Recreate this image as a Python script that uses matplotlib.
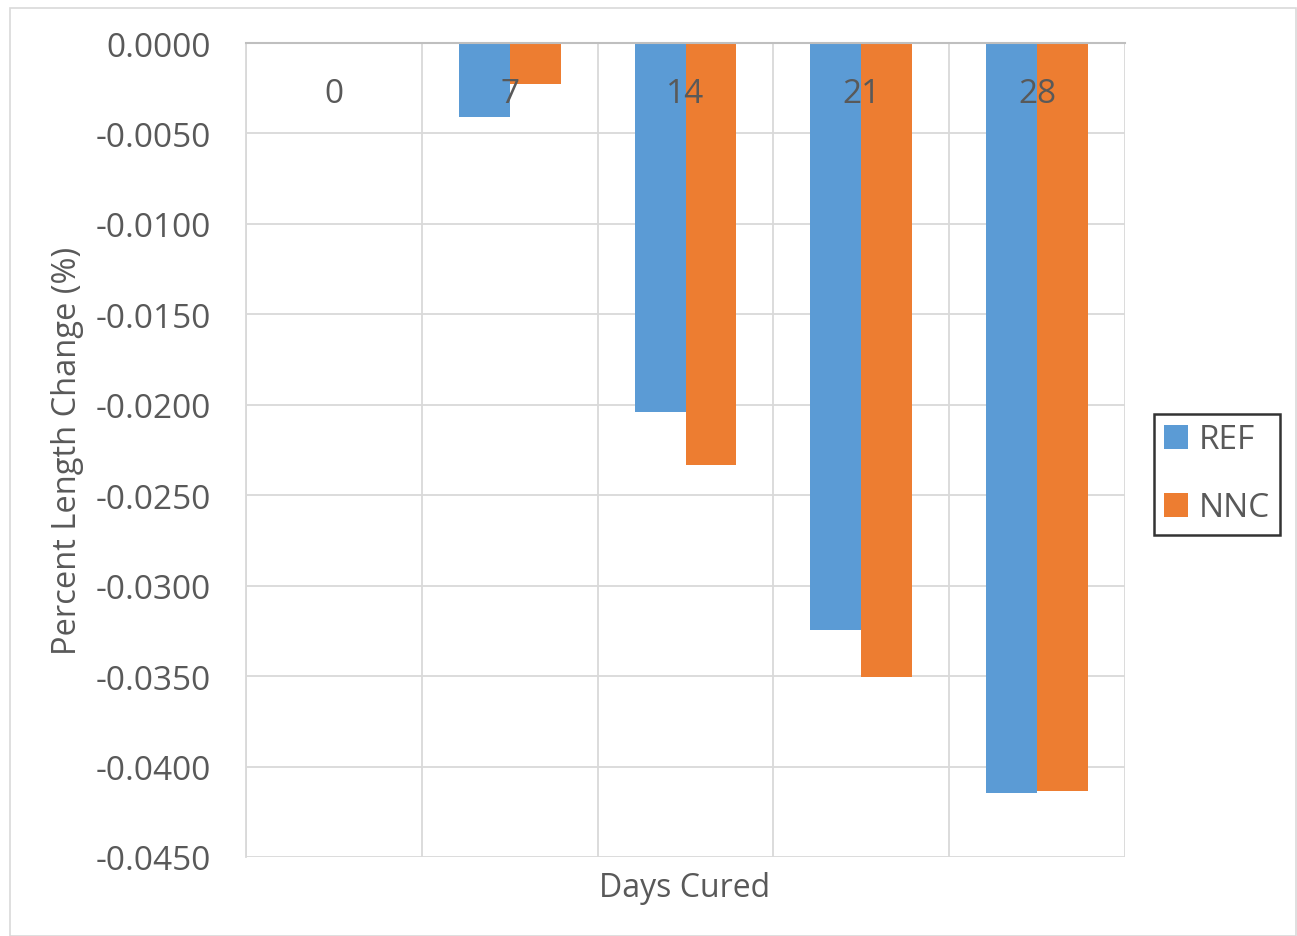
import matplotlib
matplotlib.use("Agg")
import matplotlib.pyplot as plt
from matplotlib.patches import Rectangle
import numpy as np

plt.rcParams['font.family'] = ['Open Sans', 'DejaVu Sans']

days = ["0", "7", "14", "21", "28"]
ref_values = [0.0, -0.00408, -0.02042, -0.03247, -0.04144]
nnc_values = [0.0, -0.00229, -0.02335, -0.03503, -0.04137]
y_ticks = [0.0, -0.005, -0.010, -0.015, -0.020, -0.025, -0.030, -0.035, -0.040, -0.045]

W, H = 1297, 937
fig = plt.figure(figsize=(W / 100, H / 100), dpi=100)
ax = fig.add_axes([246 / W, 1 - 858 / H, (1125 - 246) / W, (858 - 44) / H])

# outer chart border
fig.patches.append(Rectangle((10 / W, 0), (W - 11) / W, 1 - 9 / H, transform=fig.transFigure,
                             fill=False, edgecolor="#d9d9d9", linewidth=1.2))

x = np.arange(len(days))
bw = 0.29
ax.bar(x - bw / 2, ref_values, bw, color="#5B9BD5", label="REF", zorder=2)
ax.bar(x + bw / 2, nnc_values, bw, color="#ED7D31", label="NNC", zorder=2)

ax.set_xlim(-0.5, len(days) - 0.5)
ax.set_ylim(-0.045, 0.0)
ax.set_yticks(y_ticks)
ax.set_yticklabels([f"{v:.4f}" for v in y_ticks], fontsize=24, color="#595959")
ax.tick_params(axis="y", length=0, pad=25)

# category boundaries as vertical gridlines
ax.set_xticks(np.arange(-0.5, len(days), 1.0))
ax.set_xticklabels([])
ax.tick_params(axis="x", length=0)
ax.grid(True, color="#d9d9d9", linewidth=1.3, zorder=0)
ax.set_axisbelow(True)

for s in ["right", "bottom"]:
    ax.spines[s].set_visible(False)
ax.spines["left"].set_color("#d9d9d9")
ax.spines["left"].set_linewidth(1.3)
ax.spines["top"].set_color("#bfbfbf")
ax.spines["top"].set_linewidth(1.5)

# category labels just below the zero axis line
for xi, lab in zip(x, days):
    ax.annotate(lab, xy=(xi, 0), xytext=(0, -50), textcoords="offset pixels",
                ha="center", va="center", fontsize=24, color="#595959", zorder=5,
                annotation_clip=False)

fig.text(68 / W, 1 - 451 / H, "Percent Length Change (%)", rotation=90, ha="center", va="center",
         fontsize=23.5, color="#595959")
fig.text(685 / W, 1 - 889 / H, "Days Cured", ha="center", va="center", fontsize=23, color="#595959")

leg = fig.legend(loc="center", bbox_to_anchor=(1217 / W, 1 - 475 / H), fontsize=24,
                 frameon=True, fancybox=False, handlelength=0.72, handleheight=0.72,
                 handletextpad=0.3, labelspacing=1.05, borderpad=0.3, borderaxespad=0)
leg.get_frame().set_edgecolor("black")
leg.get_frame().set_linewidth(1.8)
for t in leg.get_texts():
    t.set_color("#595959")

fig.savefig("out.png", dpi=100)
